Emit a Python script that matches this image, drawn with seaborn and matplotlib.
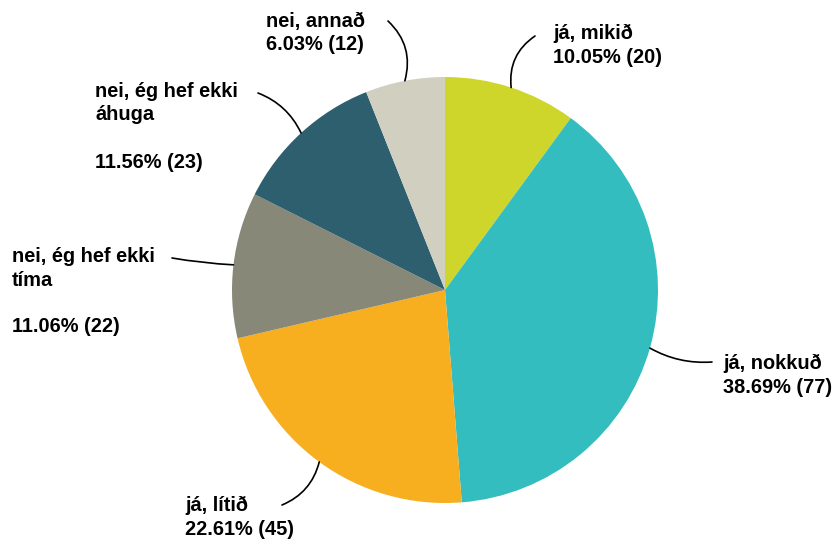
import numpy as np
import matplotlib
matplotlib.use("Agg")
import matplotlib.pyplot as plt
import seaborn as sns

# Data
labels = ["já, mikið", "já, nokkuð", "já, lítið",
          "nei, ég hef ekki\ntíma", "nei, ég hef ekki\náhuga", "nei, annað"]
counts = [20, 77, 45, 22, 23, 12]
colors = ["#cfd62b", "#33bdbf", "#f7ae1f", "#888878", "#2e5f6e", "#d0cfc0"]

# label layout (pixels from top-left): text left x, first baseline y, leader end point, curvature
text_pos = [(553, 39), (723, 369), (185, 511), (12, 262), (95, 97), (266, 27)]
leader_end = [(535, 36), (712, 362), (282, 505), (172, 258), (258, 93), (388, 21)]
leader_rad = [0.3, -0.15, 0.25, 0.03, -0.2, -0.3]
blank_line = [False, False, False, True, True, False]

W, H = 840, 544
cx, cy, R = 445, 290, 213
ASCENT = 15  # px from first baseline up to the text box top

sns.set_theme(style="white")
plt.rcParams['font.family'] = ['Liberation Sans', 'DejaVu Sans']

fig = plt.figure(figsize=(W / 100, H / 100), dpi=100)
ax = fig.add_axes([0, 0, 1, 1])

wedges, _ = ax.pie(counts, colors=colors, startangle=90, counterclock=False,
                   center=(cx, H - cy), radius=R, wedgeprops=dict(linewidth=0))
ax.set_xlim(0, W)
ax.set_ylim(0, H)
ax.set_aspect('equal')
ax.axis('off')

total = sum(counts)
for w, lab, n, tp, le, rad, bl in zip(wedges, labels, counts, text_pos,
                                      leader_end, leader_rad, blank_line):
    mid = np.deg2rad((w.theta1 + w.theta2) / 2)
    rim = (cx + R * np.cos(mid), H - cy + R * np.sin(mid))
    ax.annotate("", xy=rim, xytext=(le[0], H - le[1]),
                arrowprops=dict(arrowstyle='-', color='black', lw=1.2,
                                shrinkA=0, shrinkB=0,
                                connectionstyle=f"arc3,rad={rad}"))
    pct = f"{n / total * 100:.2f}% ({n})"
    txt = lab + ("\n\n" if bl else "\n") + pct
    ax.text(tp[0], H - (tp[1] - ASCENT), txt, ha='left', va='top', fontsize=14.4,
            fontweight='bold', color='black', linespacing=1.3)

fig.savefig("out.png", dpi=100)
